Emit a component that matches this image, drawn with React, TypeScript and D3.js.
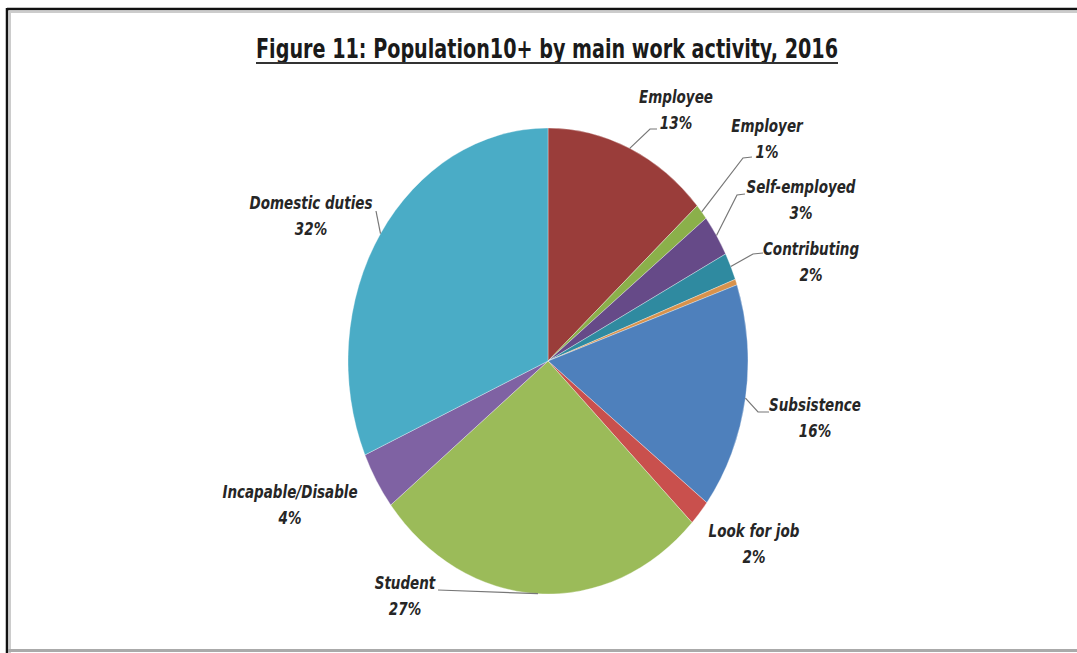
import React from "react";
import * as d3 from "d3";

// slice order is clockwise from 12 o'clock, as in the figure
const categories = [
    "Employee",
    "Employer",
    "Self-employed",
    "Contributing",
    "Other",
    "Subsistence",
    "Look for job",
    "Student",
    "Incapable/Disable",
    "Domestic duties",
];
const shares = [13.4, 1.1, 2.9, 1.9, 0.4, 15.7, 1.8, 27.2, 4.0, 31.6];
const shareLabels = ["13%", "1%", "3%", "2%", "", "16%", "2%", "27%", "4%", "32%"];
const colors = [
    "#9a3d3a",
    "#8bb04a",
    "#664a88",
    "#2f8aa0",
    "#d8924c",
    "#4e80bc",
    "#c9504d",
    "#9bbb59",
    "#7f62a3",
    "#4aacc6",
];

// label placement: text centre + baseline, and the elbow of the leader line
const labelLayout = [
    { x: 676, y: 103, elbow: [650, 129], end: [657, 129] },
    { x: 767, y: 132, elbow: [743, 158], end: [752, 157] },
    { x: 801, y: 193, elbow: [737, 195], end: [745, 194] },
    { x: 811, y: 255, elbow: [753, 254], end: [763, 253] },
    null,
    { x: 815, y: 411, elbow: [758, 412], end: [769, 412] },
    { x: 754, y: 537, elbow: null, end: null },
    { x: 405, y: 589, elbow: [438, 590], end: [438, 590] },
    { x: 290, y: 498, elbow: null, end: null },
    { x: 311, y: 209, elbow: [376, 211], end: [376, 211] },
];

export default function App() {
    const ref = React.useRef<SVGSVGElement>(null);

    React.useEffect(() => {
        const width = 1077;
        const height = 653;
        const cx = 548;
        const cy = 361;
        const r = 200;
        const yStretch = 233 / 200;

        const svg = d3
            .select(ref.current)
            .attr("width", width)
            .attr("height", height)
            .attr("viewBox", [0, 0, width, height])
            .style("position", "absolute")
            .style("left", "0px")
            .style("top", "0px")
            .style("background", "#fff");

        // frame of the scanned figure
        svg.append("line").attr("x1", 7).attr("x2", 7).attr("y1", 8).attr("y2", height)
            .attr("stroke", "#111").attr("stroke-width", 2.5);
        svg.append("line").attr("x1", 7).attr("x2", width).attr("y1", 9).attr("y2", 9)
            .attr("stroke", "#111").attr("stroke-width", 2.5);
        svg.append("line").attr("x1", 10).attr("x2", 10).attr("y1", 11).attr("y2", height)
            .attr("stroke", "#ccc").attr("stroke-width", 2);
        svg.append("line").attr("x1", 9).attr("x2", width).attr("y1", 12).attr("y2", 12)
            .attr("stroke", "#ccc").attr("stroke-width", 2);
        svg.append("line").attr("x1", 8).attr("x2", width).attr("y1", 650.5).attr("y2", 650.5)
            .attr("stroke", "#aaa").attr("stroke-width", 3);

        // title
        svg.append("text")
            .attr("transform", "translate(547,58) scale(1,1.12)")
            .attr("text-anchor", "middle")
            .attr("font-family", "'Liberation Sans Narrow', 'DejaVu Sans Condensed', sans-serif")
            .attr("font-weight", "bold")
            .attr("font-size", 23)
            .attr("fill", "#1a1a1a")
            .attr("textLength", 582)
            .attr("lengthAdjust", "spacingAndGlyphs")
            .text("Figure 11: Population10+ by main work activity, 2016");
        svg.append("line").attr("x1", 256).attr("x2", 838).attr("y1", 63).attr("y2", 63)
            .attr("stroke", "#333").attr("stroke-width", 2);

        const data = categories.map((c, i) => ({ name: c, value: shares[i], i }));
        const pie = d3.pie<any>().sort(null).value((d) => d.value);
        const arcs = pie(data);
        const arc = d3.arc<any>().innerRadius(0).outerRadius(r);

        const g = svg.append("g")
            .attr("transform", `translate(${cx},${cy}) scale(1,${yStretch})`);
        g.selectAll("path")
            .data(arcs)
            .join("path")
            .attr("d", arc)
            .attr("fill", (d) => colors[d.data.i])
            .attr("stroke", "#fff")
            .attr("stroke-width", 0.3);

        // leader lines from the slice edge to the labels
        const edge = (a: any) => {
            const mid = (a.startAngle + a.endAngle) / 2;
            return [cx + r * Math.sin(mid), cy - r * yStretch * Math.cos(mid)];
        };
        arcs.forEach((a, i) => {
            const lay = labelLayout[i];
            if (!lay || !lay.elbow) return;
            const p = edge(a);
            svg.append("path")
                .attr("d", d3.line()([p as [number, number], lay.elbow as [number, number], lay.end as [number, number]]))
                .attr("fill", "none")
                .attr("stroke", "#777")
                .attr("stroke-width", 1.2);
        });

        const labels = svg.append("g")
            .attr("font-family", "'Liberation Sans Narrow', 'DejaVu Sans Condensed', sans-serif")
            .attr("font-weight", "bold")
            .attr("font-style", "italic")
            .attr("font-size", 15)
            .attr("fill", "#262626")
            .attr("text-anchor", "middle");
        categories.forEach((c, i) => {
            const lay = labelLayout[i];
            if (!lay || !shareLabels[i]) return;
            labels.append("text")
                .attr("transform", `translate(${lay.x},${lay.y}) scale(1,1.15)`)
                .text(c);
            labels.append("text")
                .attr("transform", `translate(${lay.x},${lay.y + 26}) scale(1,1.15)`)
                .text(shareLabels[i]);
        });

        return () => {
            svg.selectAll("*").remove();
        };
    }, []);

    return <svg ref={ref}></svg>;
}
